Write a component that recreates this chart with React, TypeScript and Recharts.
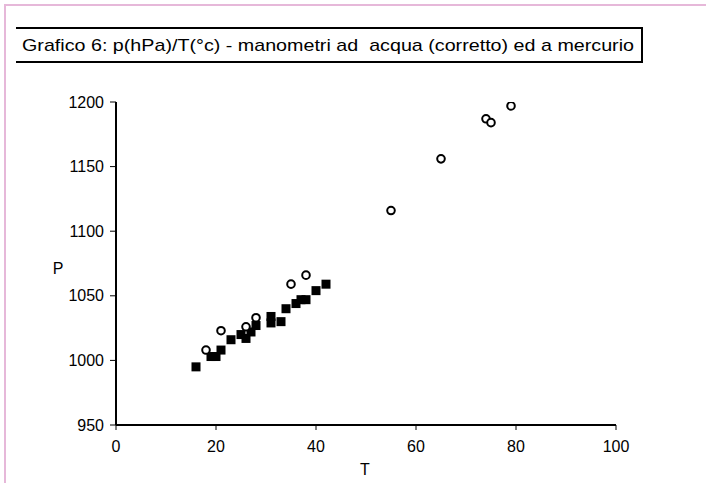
import React from 'react';
import { ScatterChart, Scatter, XAxis, YAxis, ZAxis } from 'recharts';

const title = 'Grafico 6: p(hPa)/T(°c) - manometri ad  acqua (corretto) ed a mercurio';

const tempMercury = [16, 19, 20, 21, 23, 25, 26, 27, 28, 31, 31, 33, 34, 36, 37, 38, 40, 42];
const presMercury = [995, 1003, 1003, 1008, 1016, 1020, 1017, 1022, 1027, 1029, 1034, 1030, 1040, 1044, 1047, 1047, 1054, 1059];

const tempWater = [18, 21, 26, 28, 35, 38, 55, 65, 74, 75, 79];
const presWater = [1008, 1023, 1026, 1033, 1059, 1066, 1116, 1156, 1187, 1184, 1197];

const xTicks = [0, 20, 40, 60, 80, 100];
const yTicks = [950, 1000, 1050, 1100, 1150, 1200];

const mercuryData = tempMercury.map((t, i) => ({ t, p: presMercury[i] }));
const waterData = tempWater.map((t, i) => ({ t, p: presWater[i] }));

const FONT = '"Liberation Sans", Arial, sans-serif';

const SquareShape = (props: any) => {
  const { cx, cy } = props;
  return <rect x={cx - 4.5} y={cy - 4.5} width={9} height={9} fill="#000" />;
};

const CircleShape = (props: any) => {
  const { cx, cy } = props;
  return <circle cx={cx} cy={cy} r={3.8} fill="#fff" stroke="#000" strokeWidth={2} />;
};

export default function App() {
  return (
    <div style={{ position: 'absolute', left: 0, top: 0, width: 706, height: 483, background: '#fff', overflow: 'hidden' }}>
      <div
        style={{
          position: 'absolute',
          left: 4,
          top: 4,
          width: 720,
          height: 500,
          borderLeft: '2px solid #e6b8d9',
          borderTop: '2px solid #e6b8d9',
        }}
      />
      <svg style={{ position: 'absolute', left: 0, top: 0 }} width={706} height={80}>
        <line x1={16} y1={28} x2={643} y2={28} stroke="#000" strokeWidth={2} />
        <line x1={642} y1={28} x2={642} y2={62} stroke="#000" strokeWidth={2} />
        <line x1={16} y1={62} x2={643} y2={62} stroke="#000" strokeWidth={2} />
        <text x={22} y={51} fontFamily={FONT} fontSize={17} fill="#000" textLength={612} lengthAdjust="spacingAndGlyphs" xmlSpace="preserve">
          {title}
        </text>
      </svg>
      <div style={{ position: 'absolute', left: 0, top: 0 }}>
        <ScatterChart width={706} height={483} margin={{ top: 102, right: 90, bottom: 28, left: 56 }}>
          <XAxis
            type="number"
            dataKey="t"
            domain={[0, 100]}
            ticks={xTicks}
            height={30}
            tickSize={5}
            tickMargin={11}
            axisLine={{ stroke: '#000', strokeWidth: 2 }}
            tickLine={{ stroke: '#000' }}
            tick={{ fill: '#000', fontFamily: FONT, fontSize: 16 }}
            allowDataOverflow
            label={{
              value: 'T',
              content: () => (
                <text x={365} y={475} textAnchor="middle" fontFamily={FONT} fontSize={16} fill="#000">
                  T
                </text>
              ),
            }}
          />
          <YAxis
            type="number"
            dataKey="p"
            domain={[950, 1200]}
            ticks={yTicks}
            width={60}
            tickSize={6}
            tickMargin={6}
            axisLine={{ stroke: '#000', strokeWidth: 2 }}
            tickLine={{ stroke: '#000' }}
            tick={{ fill: '#000', fontFamily: FONT, fontSize: 16 }}
            allowDataOverflow
            label={{
              value: 'P',
              content: () => (
                <text x={58} y={274} textAnchor="middle" fontFamily={FONT} fontSize={16} fill="#000">
                  P
                </text>
              ),
            }}
          />
          <ZAxis range={[81, 81]} />
          <Scatter name="mercurio" data={mercuryData} shape={SquareShape} isAnimationActive={false} />
          <Scatter name="acqua (corretto)" data={waterData} shape={CircleShape} isAnimationActive={false} />
        </ScatterChart>
      </div>
    </div>
  );
}
